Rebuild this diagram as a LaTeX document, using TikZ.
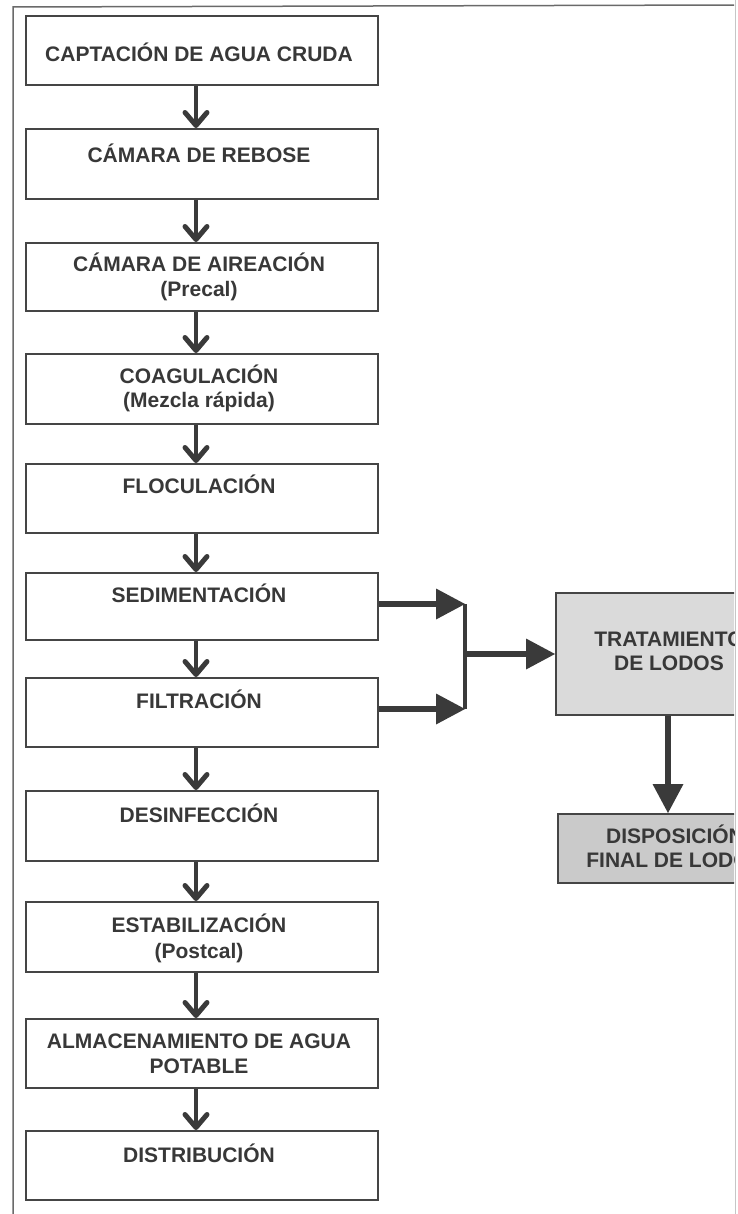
\documentclass[tikz,border=0pt]{standalone}
\usepackage{fontspec}
\setmainfont{Liberation Sans}
\usetikzlibrary{arrows.meta}
\definecolor{boxc}{HTML}{454545}
\definecolor{txtc}{HTML}{383838}
\definecolor{arrc}{HTML}{3A3A3A}
\definecolor{shadeA}{HTML}{DADADA}
\definecolor{shadeB}{HTML}{CACACA}
\definecolor{framec}{HTML}{6A6A6A}
\begin{document}
\begin{tikzpicture}[x=1pt,y=-1pt,
  box/.style={draw=boxc, line width=2pt, fill=white, inner sep=0pt, anchor=north west, minimum width=352pt},
  sbox/.style={draw=boxc, line width=2pt, inner sep=0pt, anchor=north west},
  lbl/.style={font=\fontsize{21}{25}\selectfont\bfseries, text=txtc, anchor=base, inner sep=0pt},
  flow/.style={draw=arrc, line width=4pt, -{Straight Barb[length=13pt, width=22pt, line width=5pt, round]}},
  side/.style={draw=arrc, line width=6pt, -{Triangle[length=29pt, width=31pt, line width=0pt, fill=arrc]}},
  jn/.style={draw=arrc, line width=4pt},
  frame/.style={draw=framec, line width=1.5pt}
]
\useasboundingbox (0,0) rectangle (737,1214);
\begin{scope}
\clip (0,0) rectangle (734,1214);
% frame
\coordinate (fa) at (13,1214);
\coordinate (fb) at (13,7);
\coordinate (fc) at (737,5);
\draw[frame] (fa) -- (fb) -- (fc);

% main chain boxes
\node[box, minimum height=69pt] (b1) at (25,15) {};
\node[box, minimum height=70pt] (b2) at (25,128) {};
\node[box, minimum height=68pt] (b3) at (25,242) {};
\node[box, minimum height=70pt] (b4) at (25,353) {};
\node[box, minimum height=69pt] (b5) at (25,463) {};
\node[box, minimum height=67pt] (b6) at (25,572) {};
\node[box, minimum height=69pt] (b7) at (25,677) {};
\node[box, minimum height=70pt] (b8) at (25,790) {};
\node[box, minimum height=70pt] (b9) at (25,901) {};
\node[box, minimum height=69pt] (b10) at (25,1018) {};
\node[box, minimum height=69pt] (b11) at (25,1130) {};

% labels
\node[lbl] (t1) at ([xshift=-3pt,yshift=-47pt]b1.north) {CAPTACIÓN DE AGUA CRUDA};
\node[lbl] (t2) at ([xshift=-3pt,yshift=-35pt]b2.north) {CÁMARA DE REBOSE};
\node[lbl] (t3a) at ([xshift=-3pt,yshift=-30pt]b3.north) {CÁMARA DE AIREACIÓN};
\node[lbl] (t3b) at ([xshift=-3pt,yshift=-55pt]b3.north) {(Precal)};
\node[lbl] (t4a) at ([xshift=-3pt,yshift=-30pt]b4.north) {COAGULACIÓN};
\node[lbl] (t4b) at ([xshift=-3pt,yshift=-54pt]b4.north) {(Mezcla rápida)};
\node[lbl] (t5) at ([xshift=-3pt,yshift=-30pt]b5.north) {FLOCULACIÓN};
\node[lbl] (t6) at ([xshift=-3pt,yshift=-30pt]b6.north) {SEDIMENTACIÓN};
\node[lbl] (t7) at ([xshift=-3pt,yshift=-31pt]b7.north) {FILTRACIÓN};
\node[lbl] (t8) at ([xshift=-3pt,yshift=-32pt]b8.north) {DESINFECCIÓN};
\node[lbl] (t9a) at ([xshift=-3pt,yshift=-31pt]b9.north) {ESTABILIZACIÓN};
\node[lbl] (t9b) at ([xshift=-3pt,yshift=-57pt]b9.north) {(Postcal)};
\node[lbl] (t10a) at ([xshift=-3pt,yshift=-30pt]b10.north) {ALMACENAMIENTO DE AGUA};
\node[lbl] (t10b) at ([xshift=-3pt,yshift=-55pt]b10.north) {POTABLE};
\node[lbl] (t11) at ([xshift=-3pt,yshift=-32pt]b11.north) {DISTRIBUCIÓN};

% chain connectors
\foreach \a/\b in {b1/b2,b2/b3,b3/b4,b4/b5,b5/b6,b6/b7,b7/b8,b8/b9,b9/b10,b10/b11}{
  \draw[flow] ([xshift=-6pt]\a.south) -- ([xshift=-6pt]\b.north);
}

% sludge boxes
\node[sbox, fill=shadeA, minimum width=224pt, minimum height=122pt] (tr) at (555,592) {};
\node[sbox, fill=shadeB, minimum width=234pt, minimum height=69pt] (dp) at (557,813) {};
\node[lbl] (ttra) at ([xshift=1pt,yshift=-54pt]tr.north) {TRATAMIENTO};
\node[lbl] (ttrb) at ([xshift=1pt,yshift=-78pt]tr.north) {DE LODOS};
\node[lbl] (tdpa) at ([yshift=-30pt]dp.north) {DISPOSICIÓN};
\node[lbl] (tdpb) at ([yshift=-54pt]dp.north) {FINAL DE LODOS};

% branch connectors
\coordinate (j) at (465,0);
\draw[side] ([yshift=2.5pt]b6.east) -- ([yshift=2.5pt]b6.east -| j);
\draw[side] ([yshift=3.5pt]b7.east) -- ([yshift=3.5pt]b7.east -| j);
\draw[jn] ([yshift=2.5pt]b6.east -| j) -- ([yshift=3.5pt]b7.east -| j);
\draw[side] (tr.west -| j) -- (tr.west);
\draw[side] (tr.south) -- (tr.south |- dp.north);
\end{scope}
% page edge
\coordinate (ea) at (735.5,0);
\coordinate (eb) at (735.5,1214);
\draw[draw=gray!45, line width=1.5pt] (ea) -- (eb);
\end{tikzpicture}
\end{document}
